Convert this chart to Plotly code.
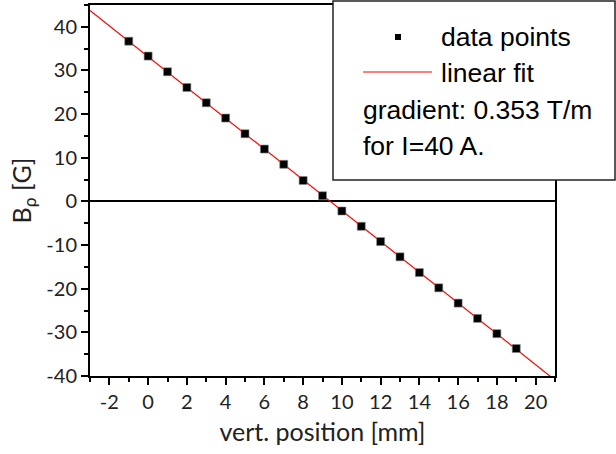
import numpy as np
import plotly.graph_objects as go

# data
positions_mm = [-1, 0, 1, 2, 3, 4, 5, 6, 7, 8, 9, 10, 11, 12, 13, 14, 15, 16, 17, 18, 19]
field_G = [36.7, 33.3, 29.7, 26.1, 22.6, 19.1, 15.5, 12.0, 8.5, 4.8, 1.3,
           -2.2, -5.7, -9.2, -12.7, -16.3, -19.8, -23.3, -26.8, -30.3, -33.7]

x_ticks = list(range(-2, 21, 2))
y_ticks = list(range(-40, 41, 10))

# linear fit
slope, intercept = np.polyfit(positions_mm, field_G, 1)
fit_x = [-3, 21]
fit_y = [slope * v + intercept for v in fit_x]

W, H = 616, 454
L, R, T, B = 90, 555, 5, 376

def px(xp):
    return (xp - L) / (R - L)

def py(yp):
    return (B - yp) / (B - T)

fig = go.Figure()
fig.add_trace(go.Scatter(x=fit_x, y=fit_y, mode="lines",
                         line=dict(color="#ff0000", width=1.2), showlegend=False))
fig.add_trace(go.Scatter(x=positions_mm, y=field_G, mode="markers",
                         marker=dict(symbol="square", size=8, color="black",
                                     line=dict(color="#888888", width=0.6)),
                         showlegend=False))

tickfont = dict(family="Lato, sans-serif", size=20, color="#222222")
titlefont = dict(family="Lato, sans-serif", size=25, color="#222222")
fig.update_xaxes(range=[-3, 21], tickvals=x_ticks, ticktext=[str(v) for v in x_ticks],
                 showgrid=False, zeroline=False, showline=True, linecolor="black",
                 linewidth=2, mirror=True, ticks="outside", ticklen=7, tickwidth=1.5,
                 tickcolor="black", tickfont=tickfont,
                 minor=dict(dtick=1, tick0=-3, ticks="outside", ticklen=4, tickwidth=1.5,
                            tickcolor="black", showgrid=False),
                 title=dict(text="vert. position [mm]", standoff=11, font=titlefont))
fig.update_yaxes(range=[-40, 45], tickvals=y_ticks, ticktext=[str(v) for v in y_ticks],
                 showgrid=False, zeroline=True, zerolinecolor="black", zerolinewidth=1.5,
                 showline=True, linecolor="black", linewidth=2, mirror=True,
                 ticks="outside", ticklen=7, tickwidth=1.5, tickcolor="black",
                 tickfont=tickfont,
                 minor=dict(dtick=5, tick0=-40, ticks="outside", ticklen=4, tickwidth=1.5,
                            tickcolor="black", showgrid=False),
                 title=dict(text="B<sub>ρ</sub> [G]", standoff=8, font=titlefont))

# legend box
shapes = [
    dict(type="rect", xref="paper", yref="paper", x0=px(333), x1=px(615), y0=py(180), y1=py(1),
         fillcolor="white", line=dict(color="#222222", width=1.5), layer="above"),
    dict(type="rect", xref="paper", yref="paper", x0=px(395), x1=px(401), y0=py(40), y1=py(34),
         fillcolor="black", line=dict(width=0), layer="above"),
    dict(type="line", xref="paper", yref="paper", x0=px(363), x1=px(432), y0=py(72), y1=py(72),
         line=dict(color="#ff0000", width=1.2), layer="above"),
]
lfont = dict(family="Liberation Sans, Arial, sans-serif", size=26.5, color="black")
annotations = [
    dict(text="data points", x=px(439), y=py(37), xanchor="left", yanchor="middle"),
    dict(text="linear fit", x=px(439), y=py(73), xanchor="left", yanchor="middle"),
    dict(text="gradient: 0.353 T/m", x=px(361), y=py(110), xanchor="left", yanchor="middle"),
    dict(text="for I=40 A.", x=px(361), y=py(146), xanchor="left", yanchor="middle"),
]
for a in annotations:
    a.update(xref="paper", yref="paper", showarrow=False, font=lfont)

fig.update_layout(width=W, height=H,
                  margin=dict(l=L, r=W - R, t=T, b=H - B, autoexpand=False),
                  paper_bgcolor="white", plot_bgcolor="white",
                  shapes=shapes, annotations=annotations, showlegend=False)

fig.write_html("out.html", config={"displayModeBar": False},
               post_script="document.body.style.margin='0';document.body.style.overflow='hidden';")
